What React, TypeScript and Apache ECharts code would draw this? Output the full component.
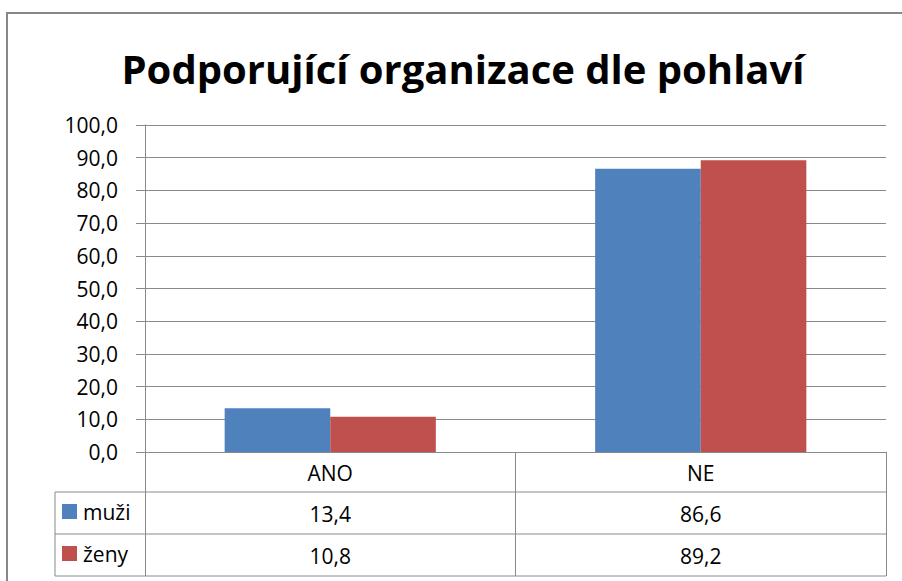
import React, { useEffect, useRef } from "react";
import * as echarts from "echarts";

const categories = ["ANO", "NE"];
const seriesNames = ["muži", "ženy"];
const muzi = [13.4, 86.6];
const zeny = [10.8, 89.2];
const titleText = "Podporující organizace dle pohlaví";

const fmt = (v: number) => v.toFixed(1).replace(".", ",");

export default function App() {
  const ref = useRef<HTMLDivElement>(null);
  useEffect(() => {
    if (!ref.current) return;
    const chart = echarts.init(ref.current, undefined, { renderer: "svg" });
    const font = "'Open Sans', sans-serif";
    const grey = "#8a8a8a";
    const tableLeft = 55;
    const tableRight = 886;
    const rows = [492, 534, 576];
    const legendBase = {
      orient: "vertical",
      left: 62,
      itemWidth: 15,
      itemHeight: 15,
      icon: "rect",
      selectedMode: false,
      padding: 0,
      textStyle: { fontSize: 21, color: "#000", fontFamily: font, padding: [0, 0, 0, 1] },
    };
    chart.setOption({
      animation: false,
      backgroundColor: "#ffffff",
      textStyle: { fontFamily: font },
      grid: { left: 145, right: 16, top: 125, bottom: 129, containLabel: false },
      legend: [
        { ...legendBase, data: [seriesNames[0]], top: 501 },
        { ...legendBase, data: [seriesNames[1]], top: 543 },
      ],
      xAxis: {
        type: "category",
        data: categories,
        axisLine: { show: true, lineStyle: { color: grey, width: 1 } },
        axisTick: { show: true, length: 124, lineStyle: { color: grey, width: 1 } },
        axisLabel: {
          margin: 0,
          interval: 0,
          formatter: (v: string, i: number) =>
            `{h|${v}}\n{v|${fmt(muzi[i])}}\n{v|${fmt(zeny[i])}}`,
          rich: {
            h: { fontSize: 21, lineHeight: 41.5, color: "#000", fontFamily: font },
            v: { fontSize: 21, lineHeight: 41.5, color: "#000", fontFamily: font },
          },
        },
      },
      yAxis: {
        type: "value",
        min: 0,
        max: 100,
        interval: 10,
        axisLine: { show: true, lineStyle: { color: grey, width: 1 } },
        axisTick: { show: true, length: 9, lineStyle: { color: grey, width: 1 } },
        splitLine: { show: true, lineStyle: { color: grey, width: 1 } },
        axisLabel: { formatter: (v: number) => fmt(v), fontSize: 21, color: "#000", margin: 27, fontFamily: font },
      },
      series: [
        {
          name: seriesNames[0],
          type: "bar",
          data: muzi,
          barGap: "0%",
          barCategoryGap: "43%",
          itemStyle: { color: "#4F81BD" },
        },
        {
          name: seriesNames[1],
          type: "bar",
          data: zeny,
          barGap: "0%",
          barCategoryGap: "43%",
          itemStyle: { color: "#C0504D" },
        },
      ],
      graphic: [
        {
          type: "rect",
          shape: { x: 7, y: 13, width: 920, height: 600 },
          style: { fill: "none", stroke: "#878787", lineWidth: 2 },
          silent: true,
        },
        {
          type: "text",
          x: 463,
          y: 68,
          style: {
            text: titleText,
            font: "bold 40px 'Open Sans', sans-serif",
            fill: "#000",
            textAlign: "center",
            textVerticalAlign: "middle",
          },
        },
        ...rows.map((y) => ({
          type: "line",
          shape: { x1: tableLeft, y1: y, x2: tableRight, y2: y },
          style: { stroke: grey, lineWidth: 1 },
          silent: true,
        })),
        {
          type: "line",
          shape: { x1: tableLeft, y1: rows[0], x2: tableLeft, y2: rows[2] },
          style: { stroke: grey, lineWidth: 1 },
          silent: true,
        },
      ],
    });
    return () => chart.dispose();
  }, []);
  return <div ref={ref} style={{ width: 902, height: 581, position: "absolute", left: 0, top: 0 }} />;
}
